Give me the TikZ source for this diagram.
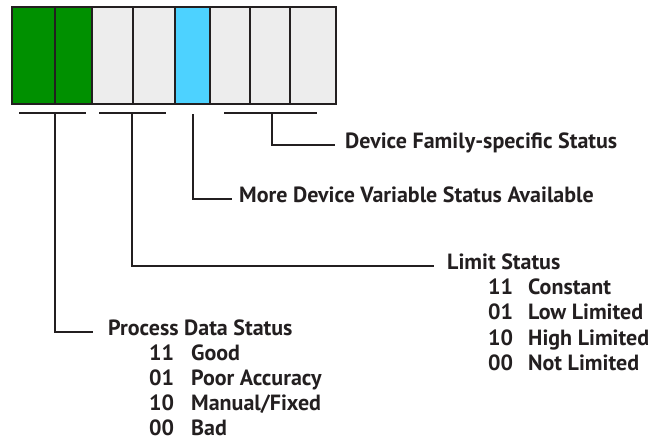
\documentclass[tikz,border=0pt]{standalone}
\usepackage{fontspec}
\setmainfont{PT Sans}
\usetikzlibrary{
  positioning,
  calc
}
\definecolor{ink}{HTML}{231F20}
\definecolor{pvgreen}{HTML}{009000}
\definecolor{cellgray}{HTML}{EDEDED}
\definecolor{morecyan}{HTML}{4DD2FF}
\newcommand{\lblfont}{\fontsize{22}{25.2}\selectfont\bfseries}
\tikzset{
  bit/.style = {
    rectangle, draw=ink, line width=2pt, minimum height=97pt,
    inner sep=0pt, outer sep=0pt
  },
  pv/.style = {
    bit, fill=pvgreen
  },
  off/.style = {
    bit, fill=cellgray
  },
  more/.style = {
    bit, fill=morecyan
  },
  brace/.style = {
    draw=ink, line width=2pt
  },
  lbl/.style = {
    anchor=base west, inner sep=0pt, text=ink, font=\lblfont,
    text height=0.66em, text depth=0pt
  },
  codes/.style = {
    anchor=base west, inner sep=0pt, text=ink, font=\lblfont
  }
}

\begin{document}
\begin{tikzpicture}[x=1pt, y=-1pt]
  \useasboundingbox (0,0) rectangle (656,442);
  % status byte
  \path
    (33.5,55.5) node [pv, minimum width=43pt] (b7) {}
    (73.5,55.5) node [pv, minimum width=37pt] (b6) {}
    (112.5,55.5) node [off, minimum width=41pt] (b5) {}
    (154,55.5) node [off, minimum width=42pt] (b4) {}
    (192.5,55.5) node [more, minimum width=35pt] (b3) {}
    (230,55.5) node [off, minimum width=40pt] (b2) {}
    (270,55.5) node [off, minimum width=40pt] (b1) {}
    (313,55.5) node [off, minimum width=46pt] (b0) {};
  % brackets under the bit groups
  \path
    (19,113) coordinate (pvL)
    (86,113) coordinate (pvR)
    (55,113) coordinate (pvT)
    (99,113) coordinate (limL)
    (166,113) coordinate (limR)
    (132,113) coordinate (limT)
    (192.5,114) coordinate (moreT)
    (224,113) coordinate (famL)
    (317,113) coordinate (famR)
    (272,113) coordinate (famT);
  \draw [brace] (pvL) -- (pvR);
  \draw [brace] (limL) -- (limR);
  \draw [brace] (famL) -- (famR);
  % labels
  \node [lbl] (fam) at (345,148.5) {Device Family-specific Status};
  \node [lbl] (more) at (239,202.5) {More Device Variable Status Available};
  \node [lbl] (lim) at (447,269.5) {Limit Status};
  \node [lbl] (pds) at (108,335) {Process Data Status};
  \node [codes] (limcodes) at ($(lim.base west)+(41,25.2)$) {%
    \begin{tabular}[t]{@{}p{40pt}@{}l@{}}
      11 & Constant\\
      01 & Low Limited\\
      10 & High Limited\\
      00 & Not Limited
    \end{tabular}};
  \node [codes] (pdscodes) at ($(pds.base west)+(41,25.2)$) {%
    \begin{tabular}[t]{@{}p{42pt}@{}l@{}}
      11 & Good\\
      01 & Poor Accuracy\\
      10 & Manual/Fixed\\
      00 & Bad
    \end{tabular}};
  % leaders
  \draw [brace] (famT) |- ([xshift=-10pt]fam.west);
  \draw [brace] (moreT) |- ([xshift=-7pt]more.west);
  \draw [brace] (limT) |- ([xshift=-13pt]lim.west);
  \draw [brace] (pvT) |- ([xshift=-15pt]pds.west);
\end{tikzpicture}
\end{document}
